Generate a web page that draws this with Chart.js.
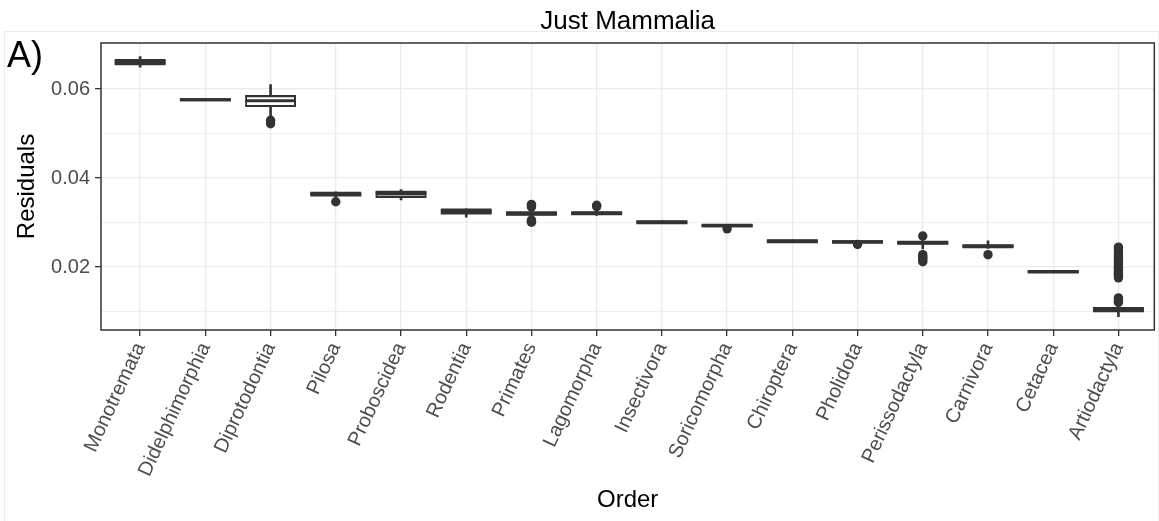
<!DOCTYPE html>
<html>
<head>
<meta charset="utf-8">
<title>Just Mammalia</title>
<script src="https://cdn.jsdelivr.net/npm/chart.js@4.4.1/dist/chart.umd.min.js"></script>
<style>
  html, body { margin: 0; padding: 0; background: #fff; }
</style>
</head>
<body>
<canvas id="chart" width="1159" height="521"></canvas>
<script>
// Residuals by mammal order, drawn as boxplots (box, whiskers, median, outliers)

// ---------- Data ----------
const orders = ['Monotremata', 'Didelphimorphia', 'Diprotodontia', 'Pilosa', 'Proboscidea',
  'Rodentia', 'Primates', 'Lagomorpha', 'Insectivora', 'Soricomorpha', 'Chiroptera',
  'Pholidota', 'Perissodactyla', 'Carnivora', 'Cetacea', 'Artiodactyla'];

const lowerWhisker = [0.0649, 0.0575, 0.0538, 0.0358, 0.0351, 0.0312, 0.0316, 0.0316,
  0.0299, 0.0291, 0.0255, 0.0254, 0.0241, 0.0242, 0.0188, 0.0089];
const q1 = [0.0656, 0.05752, 0.0562, 0.0361, 0.0358, 0.0321, 0.0318, 0.0319,
  0.0299, 0.0292, 0.0256, 0.0255, 0.0253, 0.0245, 0.0188, 0.0101];
const median = [0.0661, 0.05758, 0.0574, 0.0364, 0.0365, 0.0325, 0.0320, 0.0321,
  0.0301, 0.0293, 0.0258, 0.0257, 0.0255, 0.0247, 0.0190, 0.0104];
const q3 = [0.0665, 0.05768, 0.0584, 0.0367, 0.0369, 0.0329, 0.0323, 0.0323,
  0.0303, 0.0295, 0.0260, 0.0258, 0.0257, 0.0249, 0.0191, 0.0108];
const upperWhisker = [0.0673, 0.0579, 0.0610, 0.0369, 0.0374, 0.0331, 0.0326, 0.0327,
  0.0304, 0.0296, 0.0261, 0.0259, 0.0263, 0.0259, 0.0192, 0.0118];

const outliers = [
  [],
  [],
  [0.0530, 0.0522],
  [0.0347],
  [],
  [],
  [0.0341, 0.0338, 0.0335, 0.0306, 0.0303, 0.0301],
  [0.0339, 0.0336],
  [],
  [0.0286],
  [],
  [0.0251],
  [0.0270, 0.0228, 0.0224, 0.0220, 0.0216, 0.0212],
  [0.0228],
  [],
  [0.0121, 0.0124, 0.0127, 0.0131, 0.0176, 0.0180, 0.0184, 0.0188, 0.0192, 0.0196,
   0.0200, 0.0205, 0.0210, 0.0215, 0.0220, 0.0225, 0.0230, 0.0236, 0.0241, 0.0245]
];

const yTicks = [0.01, 0.02, 0.03, 0.04, 0.05, 0.06];
const yLabelled = [0.02, 0.04, 0.06];

// ---------- Styling ----------
const FONT = "'Liberation Sans', Arial, Helvetica, sans-serif";
const INK = '#333333';
const GRID = '#ebebeb';
const isLabelled = v => yLabelled.some(t => Math.abs(t - v) < 1e-9);

// half the drawn box width, taken from the x scale spacing
const halfBox = c => {
  const xs = c.chart.scales.x;
  return Math.abs(xs.getPixelForValue(1) - xs.getPixelForValue(0)) * 0.39;
};

const idx = orders.map((_, i) => i);
const linePoint = (values, width, order) => ({
  type: 'scatter',
  data: idx.map(i => ({ x: i, y: values[i] })),
  pointStyle: 'line',
  pointRadius: halfBox,
  pointHoverRadius: halfBox,
  pointBorderColor: INK,
  pointBorderWidth: width,
  order
});

// ---------- Frame, title and panel tag ----------
const decor = {
  id: 'decor',
  beforeDraw(chart) {
    const ctx = chart.ctx;
    ctx.save();
    ctx.fillStyle = '#fff';
    ctx.fillRect(0, 0, chart.width, chart.height);
    ctx.strokeStyle = '#ececec';
    ctx.lineWidth = 1;
    ctx.strokeRect(4.5, 31.5, chart.width - 5, chart.height);
    ctx.restore();
  },
  afterDatasetsDraw(chart) {
    const { ctx, chartArea: a } = chart;
    ctx.save();
    ctx.strokeStyle = INK;
    ctx.lineWidth = 1.5;
    ctx.strokeRect(a.left, a.top, a.right - a.left, a.bottom - a.top);
    ctx.restore();
  },
  afterDraw(chart) {
    const { ctx, chartArea: a } = chart;
    ctx.save();
    ctx.fillStyle = '#000';
    ctx.textAlign = 'center';
    ctx.textBaseline = 'alphabetic';
    ctx.font = `26px ${FONT}`;
    ctx.fillText('Just Mammalia', (a.left + a.right) / 2, 29);
    ctx.textAlign = 'left';
    ctx.font = `36px ${FONT}`;
    ctx.fillText('A)', 7, 67);
    ctx.restore();
  }
};

// ---------- Chart ----------
new Chart(document.getElementById('chart'), {
  type: 'bar',
  data: {
    datasets: [
      {
        type: 'scatter',
        label: 'outliers',
        data: outliers.flatMap((vals, i) => vals.map(v => ({ x: i, y: v }))),
        pointStyle: 'circle',
        pointRadius: 4.7,
        pointHoverRadius: 4.7,
        pointBackgroundColor: INK,
        pointBorderWidth: 0,
        order: 6
      },
      {
        label: 'whiskers',
        data: idx.map(i => ({ x: i, y: [lowerWhisker[i], upperWhisker[i]] })),
        backgroundColor: INK,
        barThickness: 2,
        grouped: false,
        order: 5
      },
      {
        label: 'boxes',
        data: idx.map(i => ({ x: i, y: [q1[i], q3[i]] })),
        backgroundColor: '#fff',
        borderColor: INK,
        borderWidth: { left: 2, right: 2, top: 0, bottom: 0 },
        borderSkipped: false,
        categoryPercentage: 1,
        barPercentage: 0.78,
        grouped: false,
        order: 4
      },
      linePoint(q1, 2.2, 3),
      linePoint(q3, 2.2, 2),
      linePoint(median, 3, 1)
    ]
  },
  options: {
    responsive: false,
    animation: false,
    events: [],
    layout: { padding: { top: 43, right: 1, left: 0, bottom: 0 } },
    plugins: { legend: { display: false }, tooltip: { enabled: false } },
    scales: {
      x: {
        type: 'linear',
        min: -0.6,
        max: orders.length - 0.45,
        offset: false,
        afterBuildTicks: s => { s.ticks = idx.map(i => ({ value: i })); },
        ticks: {
          callback: v => orders[v],
          autoSkip: false,
          minRotation: 65,
          maxRotation: 65,
          color: '#4d4d4d',
          font: { family: FONT, size: 20 },
          padding: 3
        },
        grid: { color: GRID, lineWidth: 1.3, offset: false, tickColor: INK, tickLength: 6, tickWidth: 1.3 },
        border: { display: false },
        title: {
          display: true, text: 'Order', color: '#000',
          font: { family: FONT, size: 24 }, padding: { top: 6, bottom: 6 }
        },
        afterFit: s => { s.height = 191; }
      },
      y: {
        min: 0.00588,
        max: 0.07035,
        afterBuildTicks: s => { s.ticks = yTicks.map(v => ({ value: v })); },
        ticks: {
          callback: v => isLabelled(v) ? v.toFixed(2) : '',
          color: '#4d4d4d',
          font: { family: FONT, size: 20 },
          padding: 5
        },
        grid: {
          color: GRID,
          lineWidth: c => isLabelled(c.tick.value) ? 1.3 : 0.8,
          tickColor: c => isLabelled(c.tick.value) ? INK : 'rgba(0,0,0,0)',
          tickLength: 6,
          tickWidth: 1.3
        },
        border: { display: false },
        title: {
          display: true, text: 'Residuals', color: '#000',
          font: { family: FONT, size: 24 }, padding: { top: 13, bottom: 13 }
        },
        afterFit: s => { s.width = 101; }
      }
    }
  },
  plugins: [decor]
});
</script>
</body>
</html>
